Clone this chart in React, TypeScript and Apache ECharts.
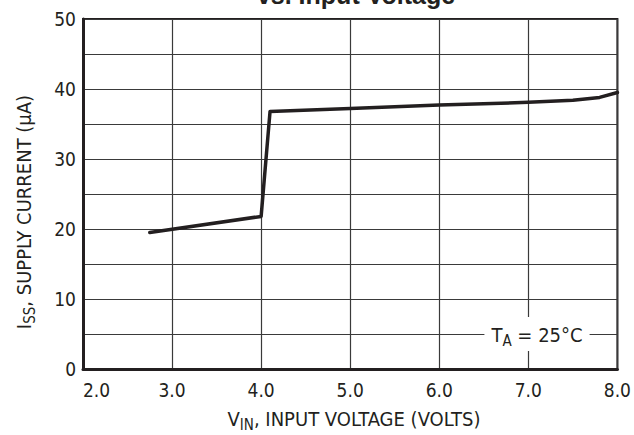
import React, { useEffect, useRef } from "react";
import * as echarts from "echarts";

const vin: number[] = [2.75, 4.0, 4.1, 5.0, 6.0, 7.0, 7.5, 7.8, 8.0];
const iss: number[] = [19.5, 21.8, 36.8, 37.2, 37.7, 38.1, 38.4, 38.8, 39.5];
const xTicks: number[] = [2, 3, 4, 5, 6, 7, 8];
const yTicks: number[] = [0, 10, 20, 30, 40, 50];

const FONT = "'Liberation Sans Narrow', 'DejaVu Sans Condensed', 'Liberation Sans', sans-serif";
const INK = "#231f20";

const richStyles = {
  a: { fontFamily: FONT, fontSize: 20, lineHeight: 26, fill: INK, color: INK },
  s: { fontFamily: FONT, fontSize: 15, lineHeight: 11, verticalAlign: "bottom", fill: INK, color: INK },
};

export default function App() {
  const ref = useRef<HTMLDivElement>(null);
  useEffect(() => {
    if (!ref.current) return;
    const chart = echarts.init(ref.current, undefined, { renderer: "svg" });
    const data = vin.map((x, i) => [x, iss[i]]);
    chart.setOption({
      animation: false,
      backgroundColor: "#ffffff",
      grid: {
        left: 83,
        right: 9,
        top: 19,
        bottom: 66,
        show: true,
        borderColor: INK,
        borderWidth: 2,
        backgroundColor: "transparent",
      },
      xAxis: {
        type: "value",
        min: xTicks[0],
        max: xTicks[xTicks.length - 1],
        interval: 1,
        axisLine: { show: true, onZero: false, lineStyle: { color: INK, width: 3 } },
        axisTick: { show: false },
        splitLine: { show: true, lineStyle: { color: "#3a3a3a", width: 1.2 } },
        axisLabel: {
          fontFamily: FONT,
          fontSize: 19,
          color: INK,
          margin: 11,
          formatter: (v: number) => v.toFixed(1),
          alignMinLabel: "left",
          alignMaxLabel: "center",
        },
      },
      yAxis: {
        type: "value",
        min: yTicks[0],
        max: yTicks[yTicks.length - 1],
        interval: 5,
        axisLine: { show: true, onZero: false, lineStyle: { color: INK, width: 3 } },
        axisTick: { show: false },
        splitLine: { show: true, lineStyle: { color: "#3a3a3a", width: 1.2 } },
        axisLabel: {
          fontFamily: FONT,
          fontSize: 19,
          color: INK,
          margin: 7,
          formatter: (v: number) => (yTicks.indexOf(v) >= 0 ? String(v) : ""),
        },
      },
      series: [
        {
          type: "line",
          data,
          showSymbol: false,
          symbol: "none",
          lineStyle: { color: INK, width: 3.5, join: "round", cap: "round" },
          z: 5,
        },
      ],
      graphic: [
        {
          type: "text",
          x: 356,
          y: -5,
          style: {
            text: "vs. Input Voltage",
            font: "bold 25px 'Liberation Sans', Arial, sans-serif",
            fill: INK,
            textAlign: "center",
            textVerticalAlign: "middle",
          },
        },
        {
          type: "text",
          x: 354,
          y: 419,
          style: {
            text: "{a|V}{s|IN}{a|, INPUT VOLTAGE (VOLTS)}",
            textAlign: "center",
            textVerticalAlign: "middle",
            fill: INK,
            rich: richStyles,
          },
        },
        {
          type: "text",
          x: 24,
          y: 212,
          rotation: Math.PI / 2,
          style: {
            text: "{a|I}{s|SS}{a|, SUPPLY CURRENT (μA)}",
            textAlign: "center",
            textVerticalAlign: "middle",
            fill: INK,
            rich: richStyles,
          },
        },
        {
          type: "text",
          x: 537,
          y: 334,
          z: 10,
          style: {
            text: "{a|T}{s|A}{a| = 25°C}",
            textAlign: "center",
            textVerticalAlign: "middle",
            backgroundColor: "#ffffff",
            padding: [5, 7, 3, 7],
            fill: INK,
            rich: richStyles,
          },
        },
      ],
    });
    return () => chart.dispose();
  }, []);
  return (
    <div
      ref={ref}
      style={{ position: "fixed", left: 0, top: 0, width: 634, height: 435 }}
    />
  );
}
